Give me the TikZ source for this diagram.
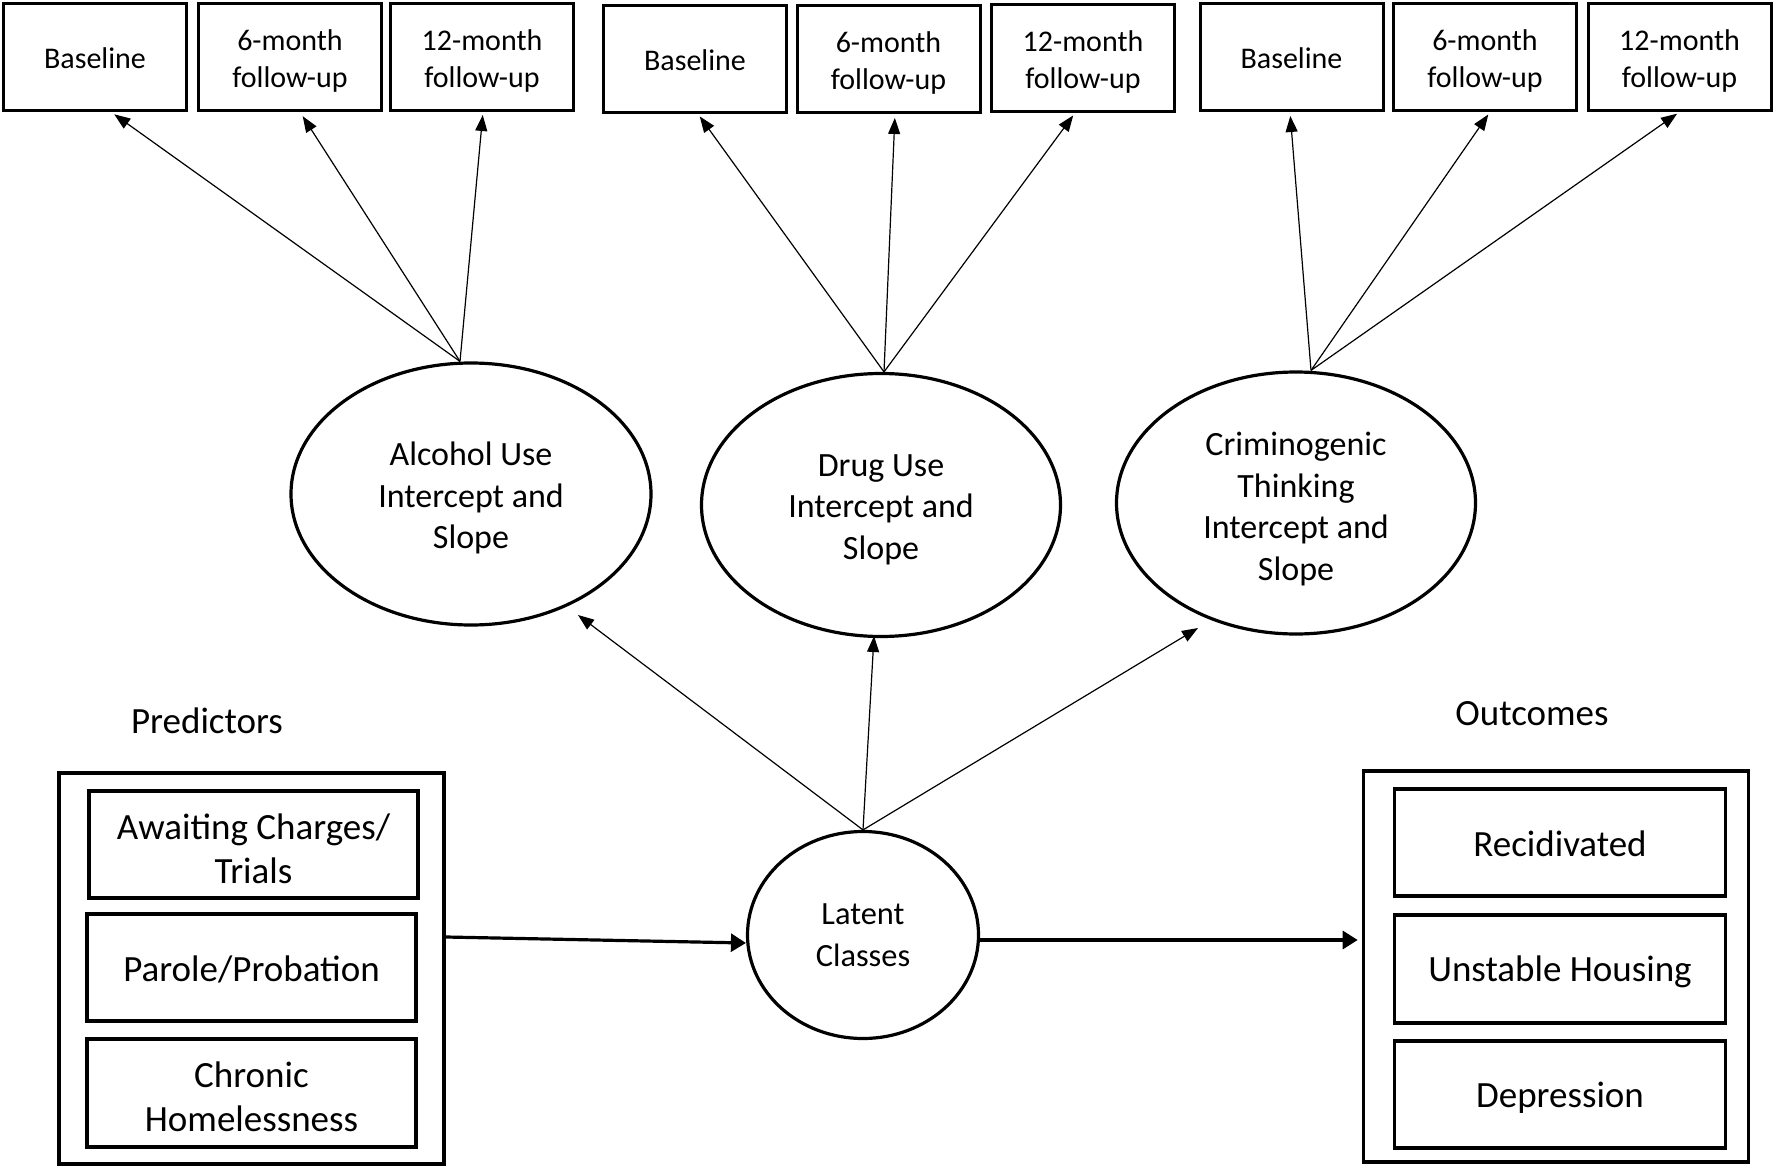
\documentclass[tikz,border=0pt]{standalone}
\usepackage{fontspec}
\setmainfont{Carlito}
\usetikzlibrary{arrows.meta,shapes.geometric}
\begin{document}
\begin{tikzpicture}[x=1pt,y=-1pt,
 tbox/.style={draw,line width=3pt,minimum width=183pt,minimum height=107pt,inner sep=0pt},
 ttxt/.style={align=center,inner sep=0pt,font=\fontsize{30}{37.5}\selectfont},
 ell/.style={draw,ellipse,line width=3.2pt,inner sep=0pt},
 etxt/.style={align=center,inner sep=0pt,font=\fontsize{34}{41.5}\selectfont},
 ltxt/.style={align=center,inner sep=0pt,font=\fontsize{32.4}{41.5}\selectfont},
 ibox/.style={draw,line width=3.6pt,minimum width=329.5pt,minimum height=107.5pt,inner sep=0pt},
 itxt/.style={align=center,inner sep=0pt,font=\fontsize{37}{44}\selectfont},
 obox/.style={draw,line width=3.6pt,inner sep=0pt},
 sarrow/.style={line width=1.2pt,-{Triangle[length=16pt,width=12pt]}},
 barrow/.style={line width=3.2pt,-{Triangle[length=15pt,width=18pt]}},
 lbl/.style={font=\fontsize{37}{44}\selectfont}]
\useasboundingbox (0,0) rectangle (1775,1169);
\fill[white] (0,0) rectangle (1775,1169);

% top observed boxes
\node[tbox,label={[ttxt,yshift=-1pt]center:{Baseline}}] (a0) at (95,57) {};
\node[tbox,label={[ttxt,yshift=-4pt]center:{6-month\\follow-up}}] (a6) at (290,57) {};
\node[tbox,label={[ttxt,yshift=-4pt]center:{12-month\\follow-up}}] (a12) at (482,57) {};
\node[tbox,label={[ttxt,yshift=-1pt]center:{Baseline}}] (d0) at (695,59) {};
\node[tbox,label={[ttxt,yshift=-4pt]center:{6-month\\follow-up}}] (d6) at (888.5,59) {};
\node[tbox,label={[ttxt,yshift=-4pt]center:{12-month\\follow-up}}] (d12) at (1083,58) {};
\node[tbox,label={[ttxt,yshift=-1pt]center:{Baseline}}] (c0) at (1291.5,57) {};
\node[tbox,label={[ttxt,yshift=-4pt]center:{6-month\\follow-up}}] (c6) at (1485,57) {};
\node[tbox,label={[ttxt,yshift=-4pt]center:{12-month\\follow-up}}] (c12) at (1679.5,57) {};

% growth ellipses
\node[ell,minimum width=360pt,minimum height=262pt,label={[etxt,yshift=-4pt]center:{Alcohol Use\\Intercept and\\Slope}}] (alc) at (471,494) {};
\node[ell,minimum width=359pt,minimum height=263pt,label={[etxt,yshift=-4.5pt]center:{Drug Use\\Intercept and\\Slope}}] (drug) at (881,505) {};
\node[ell,minimum width=359pt,minimum height=262pt,label={[etxt,yshift=-6pt]center:{Criminogenic\\Thinking\\Intercept and\\Slope}}] (crim) at (1296,503) {};

% latent classes
\node[ell,minimum width=231pt,minimum height=207pt,label={[ltxt]center:{Latent\\Classes}}] (lat) at (863,935) {};

% predictors
\node[lbl] (plbl) at (207,721) {Predictors};
\node[obox,minimum width=385pt,minimum height=391pt] (pred) at (251.5,968.5) {};
\node[ibox,label={[itxt,yshift=-4.5pt]center:{Awaiting Charges/\\Trials}}] (p1) at (253.5,844.5) {};
\node[ibox,label={[itxt,yshift=-2pt]center:{Parole/Probation}}] (p2) at (251.5,967.5) {};
\node[ibox,label={[itxt,yshift=-4pt]center:{Chronic\\Homelessness}}] (p3) at (251.5,1093) {};

% outcomes
\node[lbl] (olbl) at (1532,714) {Outcomes};
\node[obox,minimum width=385pt,minimum height=391pt] (out) at (1556,966.5) {};
\node[ibox,minimum width=331pt,label={[itxt,yshift=-1pt]center:{Recidivated}}] (o1) at (1560,842.5) {};
\node[ibox,minimum width=331pt,label={[itxt,yshift=-3pt]center:{Unstable Housing}}] (o2) at (1560,969) {};
\node[ibox,minimum width=331pt,label={[itxt,yshift=-3pt]center:{Depression}}] (o3) at (1560,1094.5) {};

% loadings
\coordinate (aa) at ([xshift=-11pt]alc.north);
\coordinate (da) at ([xshift=3pt]drug.north);
\coordinate (ca) at ([xshift=15pt]crim.north);
\draw[sarrow,shorten >=4pt] (aa) -- ([xshift=16pt]a0.south);
\draw[sarrow,shorten >=5pt] (aa) -- ([xshift=10pt]a6.south);
\draw[sarrow,shorten >=3pt] (aa) -- ([xshift=1pt]a12.south);
\draw[sarrow,shorten >=3pt] (da) -- ([xshift=3pt]d0.south);
\draw[sarrow,shorten >=4pt] (da) -- ([xshift=6.5pt]d6.south);
\draw[sarrow,shorten >=3pt] (da) -- ([xshift=-8pt]d12.south);
\draw[sarrow,shorten >=4pt] (ca) -- ([xshift=-1.5pt]c0.south);
\draw[sarrow,shorten >=3pt] (ca) -- ([xshift=5pt]c6.south);
\draw[sarrow,shorten >=3pt] (ca) -- ([xshift=0pt]c12.south);

% latent class to growth factors
\draw[sarrow] (lat.north) -- ([shift={(107,121)}]alc.center);
\draw[sarrow] (lat.north) -- ([shift={(-7,131)}]drug.center);
\draw[sarrow] (lat.north) -- ([shift={(-98,125)}]crim.center);

% predictors -> latent -> outcomes
\draw[barrow] ([yshift=31.5pt]pred.east) -- ([yshift=-8pt]lat.west);
\coordinate (le) at ([yshift=-5pt]lat.east);
\draw[barrow,shorten >=4pt] (le) -- (le -| out.west);
\end{tikzpicture}
\end{document}
